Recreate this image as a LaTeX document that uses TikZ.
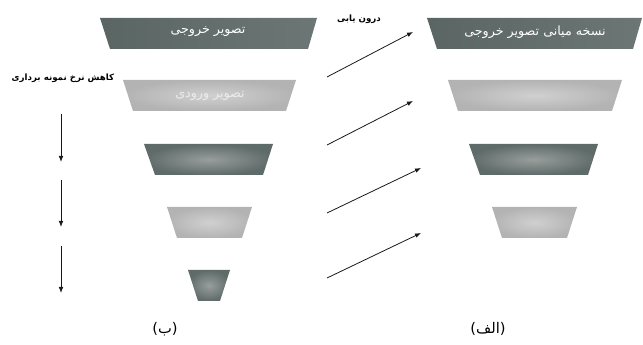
\documentclass[tikz,border=0pt]{standalone}
\usepackage{fontspec}
\usetikzlibrary{arrows.meta}
\newfontfamily\arabicfont[Script=Arabic]{DejaVu Sans}
\newfontfamily\plainfont{DejaVu Sans}
\TeXXeTstate=1
\definecolor{darkgray1}{HTML}{5F6B69}
\definecolor{darkgray2}{HTML}{979E9C}
\definecolor{lightgray1}{HTML}{B3B3B3}
\definecolor{lightgray2}{HTML}{D0D0D0}
\tikzset{
  darklayer/.style={inner color=darkgray2, outer color=darkgray1},
  lightlayer/.style={inner color=lightgray2, outer color=lightgray1},
  toplayer/.style={left color=darkgray1!95!black, right color=darkgray1!92!white},
  layertext/.style={font=\arabicfont\fontsize{9.5}{11}\selectfont, text=white},
  note/.style={font=\arabicfont\bfseries\fontsize{6.5}{8}\selectfont},
  caption/.style={font=\arabicfont\fontsize{11}{13}\selectfont},
  arr/.style={-{Latex[length=4.5pt,width=3.5pt]}, line width=0.6pt, black!90},
}

\begin{document}
\begin{tikzpicture}[x=0.75pt, y=-0.75pt]
          \useasboundingbox (0,0) rectangle (643,345);

          % (b) downsampling pyramid
          \shade [toplayer] (100,18) -- (317,18) -- (308,49) -- (110,49) -- cycle;
          \shade [lightlayer] (123,80) -- (296,80) -- (286,111) -- (133,111) -- cycle;
          \shade [darklayer] (144,144) -- (273,144) -- (263,175) -- (155,175) -- cycle;
          \shade [lightlayer] (167,207) -- (252,207) -- (242,238) -- (177,238) -- cycle;
          \shade [darklayer] (188,270) -- (230,270) -- (220,301) -- (198,301) -- cycle;
          \node [layertext] (outimg) at (208,32) {\beginR تصویر خروجی\endR};
          \node [layertext, text=white!92!black] (inimg) at (210,96) {\beginR تصویر ورودی\endR};
          \node [note] (downlbl) at (63,78) {\beginR کاهش نرخ نمونه برداری\endR};

          % (a) interpolation pyramid
          \shade [toplayer] (427,18) -- (642,18) -- (633,49) -- (437,49) -- cycle;
          \shade [lightlayer] (448,80) -- (622,80) -- (612,111) -- (458,111) -- cycle;
          \shade [darklayer] (469,144) -- (598,144) -- (588,175) -- (480,175) -- cycle;
          \shade [lightlayer] (492,207) -- (577,207) -- (567,238) -- (502,238) -- cycle;
          \node [layertext] (midimg) at (535,32) {\beginR نسخه میانی تصویر خروجی\endR};
          \node [note] (uplbl) at (359,19) {\beginR درون یابی\endR};

          % arrows
          \coordinate (d1) at (61,114); \coordinate (d1e) at (61,162);
          \coordinate (d2) at (61,180); \coordinate (d2e) at (61,227);
          \coordinate (d3) at (61,246); \coordinate (d3e) at (61,293);
          \draw [arr] (d1) -- (d1e);
          \draw [arr] (d2) -- (d2e);
          \draw [arr] (d3) -- (d3e);

          \coordinate (u1) at (327,77);  \coordinate (u1e) at (413,32);
          \coordinate (u2) at (327,145); \coordinate (u2e) at (413,101);
          \coordinate (u3) at (327,213); \coordinate (u3e) at (421,168);
          \coordinate (u4) at (327,278); \coordinate (u4e) at (421,233);
          \draw [arr] (u1) -- (u1e);
          \draw [arr] (u2) -- (u2e);
          \draw [arr] (u3) -- (u3e);
          \draw [arr] (u4) -- (u4e);

          \node [caption] (capb) at (165,329) {{\plainfont(}\beginR ب\endR{\plainfont)}};
          \node [caption] (capa) at (488,329) {{\plainfont(}\beginR الف\endR{\plainfont)}};
        \end{tikzpicture}
\end{document}
